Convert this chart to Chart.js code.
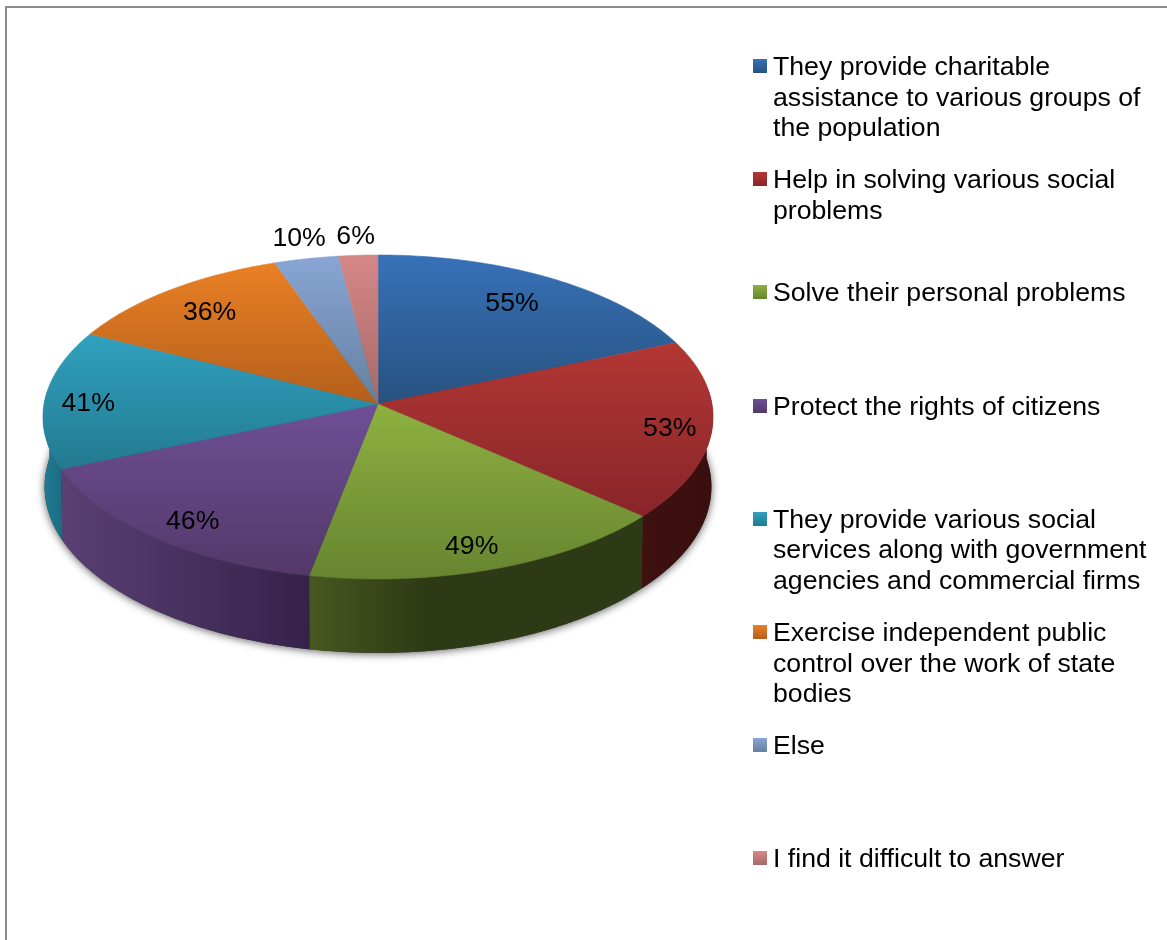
<!DOCTYPE html>
<html>
<head>
<meta charset="utf-8">
<title>Activities of public organisations</title>
<script src="https://cdn.jsdelivr.net/npm/chart.js@4"></script>
<style>
    html, body { margin: 0; padding: 0; background: #fff; overflow: hidden; }
    #frame { position: absolute; left: 5px; top: 6px; width: 1200px; height: 1000px;
             border-left: 2px solid #8c8c8c; border-top: 2px solid #8c8c8c; }
    #pie { position: absolute; left: 0; top: 0; }
    .legend-item { position: absolute; left: 773px; width: 385px; color: #000;
                   font: 26.67px/30.6px "Liberation Sans", Arial, sans-serif; }
    .legend-item i { position: absolute; left: -20px; top: 8px; width: 14px; height: 14px; }
</style>
</head>
<body>
<div id="frame"></div>
<canvas id="pie" width="1167" height="940"></canvas>
<div id="legend"></div>
<script>
const categories = [
    'They provide charitable assistance to various groups of the population',
    'Help in solving various social problems',
    'Solve their personal problems',
    'Protect the rights of citizens',
    'They provide various social services along with government agencies and commercial firms',
    'Exercise independent public control over the work of state bodies',
    'Else',
    'I find it difficult to answer'
];
const percents = [55, 53, 49, 46, 41, 36, 10, 6];

// top face gradient, light edge to dark edge
const topLight = ['#3771b8', '#b33733', '#8eb140', '#6f4f97', '#30a1bf', '#ea8024', '#89a5d4', '#d68786'];
const topDark  = ['#27527f', '#88252a', '#668530', '#533868', '#237a90', '#b35f1c', '#64809f', '#a56a6a'];
// side wall gradient, left to right, with the point where it reaches the right colour
const wallLeft  = ['#1c3a5e', '#3f1110', '#47581f', '#5a4073', '#217c94', '#8a4a15', '#4c6078', '#7a4f4f'];
const wallRight = ['#1c3a5e', '#380f0e', '#2e3a15', '#35224a', '#1b6c82', '#8a4a15', '#4c6078', '#7a4f4f'];
const wallBend  = [1, 1, 0.35, 1, 1, 1, 1, 1];
// how far along the radius each percent label sits, plus a small hand nudge
const labelRadius = [0.765, 0.875, 0.855, 0.85, 0.87, 0.8, 1.14, 1.15];
const labelNudgeX = [0, 0, -5, 3, 0, 0, 2, 0];
const labelNudgeY = [-5, 0, 1, 3, 2, -1, -3, 0];

// perspective of the tilted disc
const persp = 0.08;
const tilt = 0.482;
const bottomTilt = 0.494;
const bottomShrink = 0.995;
const depth = 69.5;

function topPoint(arc, angle, t) {
    const r = arc.outerRadius;
    const w = 1 - persp * t * Math.sin(angle);
    return {
        x: arc.x + r * t * Math.cos(angle) / w,
        y: arc.y + r * tilt * t * Math.sin(angle) / w
    };
}

function bottomPoint(arc, angle) {
    const r = arc.outerRadius;
    const w = 1 - persp * Math.sin(angle);
    return {
        x: arc.x + r * bottomShrink * Math.cos(angle) / w,
        y: arc.y + depth + r * bottomTilt * Math.sin(angle) / w
    };
}

function sweep(from, to) {
    const steps = Math.max(2, Math.ceil(Math.abs(to - from) * 90));
    const angles = [];
    for (let s = 0; s <= steps; s++) {
        angles.push(from + (to - from) * s / steps);
    }
    return angles;
}

function tracePath(ctx, points) {
    ctx.beginPath();
    points.forEach(function (p, n) {
        if (n === 0) ctx.moveTo(p.x, p.y);
        else ctx.lineTo(p.x, p.y);
    });
    ctx.closePath();
}

function drawShadow(ctx, arc) {
    const ring = sweep(0, Math.PI * 2).map(function (a) { return bottomPoint(arc, a); });
    ctx.save();
    ctx.shadowColor = 'rgba(0, 0, 0, 0.65)';
    ctx.shadowBlur = 8;
    ctx.shadowOffsetY = 1;
    ctx.fillStyle = '#333';
    tracePath(ctx, ring);
    ctx.fill();
    ctx.restore();
}

function drawWall(ctx, arc, i) {
    const from = Math.max(arc.startAngle, -0.09);
    const to = Math.min(arc.endAngle, Math.PI + 0.09);
    if (to <= from) return;

    const angles = sweep(from, to);
    const upper = angles.map(function (a) { return topPoint(arc, a, 1); });
    const lower = angles.slice().reverse().map(function (a) { return bottomPoint(arc, a); });
    const points = upper.concat(lower);
    const xs = points.map(function (p) { return p.x; });

    const grad = ctx.createLinearGradient(Math.min.apply(null, xs), 0, Math.max.apply(null, xs), 0);
    grad.addColorStop(0, wallLeft[i]);
    grad.addColorStop(wallBend[i], wallRight[i]);
    tracePath(ctx, points);
    ctx.fillStyle = grad;
    ctx.fill();
}

function drawTop(ctx, arc, i) {
    const rim = sweep(arc.startAngle, arc.endAngle).map(function (a) { return topPoint(arc, a, 1); });
    const points = [{ x: arc.x, y: arc.y }].concat(rim);
    const ys = points.map(function (p) { return p.y; });

    const grad = ctx.createLinearGradient(0, Math.min.apply(null, ys), 0, Math.max.apply(null, ys));
    grad.addColorStop(0, topLight[i]);
    grad.addColorStop(1, topDark[i]);
    tracePath(ctx, points);
    ctx.fillStyle = grad;
    ctx.strokeStyle = grad;
    ctx.lineWidth = 0.5;
    ctx.fill();
    ctx.stroke();
}

// the library works out the slice angles, this plugin paints them as a tilted disc
const tiltedPie = {
    id: 'tiltedPie',
    beforeDatasetsDraw: function (chart) {
        const ctx = chart.ctx;
        const arcs = chart.getDatasetMeta(0).data;

        drawShadow(ctx, arcs[0]);
        arcs.forEach(function (arc, i) { drawWall(ctx, arc, i); });
        arcs.forEach(function (arc, i) { drawTop(ctx, arc, i); });

        ctx.save();
        ctx.fillStyle = '#000';
        ctx.font = '26.67px "Liberation Sans", Arial, sans-serif';
        ctx.textAlign = 'center';
        ctx.textBaseline = 'middle';
        arcs.forEach(function (arc, i) {
            const mid = (arc.startAngle + arc.endAngle) / 2;
            const p = topPoint(arc, mid, labelRadius[i]);
            ctx.fillText(percents[i] + '%', p.x + labelNudgeX[i], p.y + 2 + labelNudgeY[i]);
        });
        ctx.restore();
        return false;
    }
};

new Chart(document.getElementById('pie').getContext('2d'), {
    type: 'pie',
    data: {
        labels: categories,
        datasets: [{
            data: percents,
            backgroundColor: topLight,
            borderWidth: 0,
            hoverBorderWidth: 0
        }]
    },
    options: {
        responsive: false,
        animation: false,
        events: [],
        layout: { padding: { left: 44, right: 455, top: 70, bottom: 202 } },
        plugins: {
            legend: { display: false },
            tooltip: { enabled: false }
        }
    },
    plugins: [tiltedPie]
});

// legend entries sit on an even vertical step, whatever their line count
const legend = document.getElementById('legend');
categories.forEach(function (name, i) {
    const item = document.createElement('div');
    item.className = 'legend-item';
    item.style.top = (51 + i * 113.2) + 'px';
    item.textContent = name;
    const swatch = document.createElement('i');
    swatch.style.background = 'linear-gradient(' + topLight[i] + ', ' + topDark[i] + ')';
    item.appendChild(swatch);
    legend.appendChild(item);
});
</script>
</body>
</html>
